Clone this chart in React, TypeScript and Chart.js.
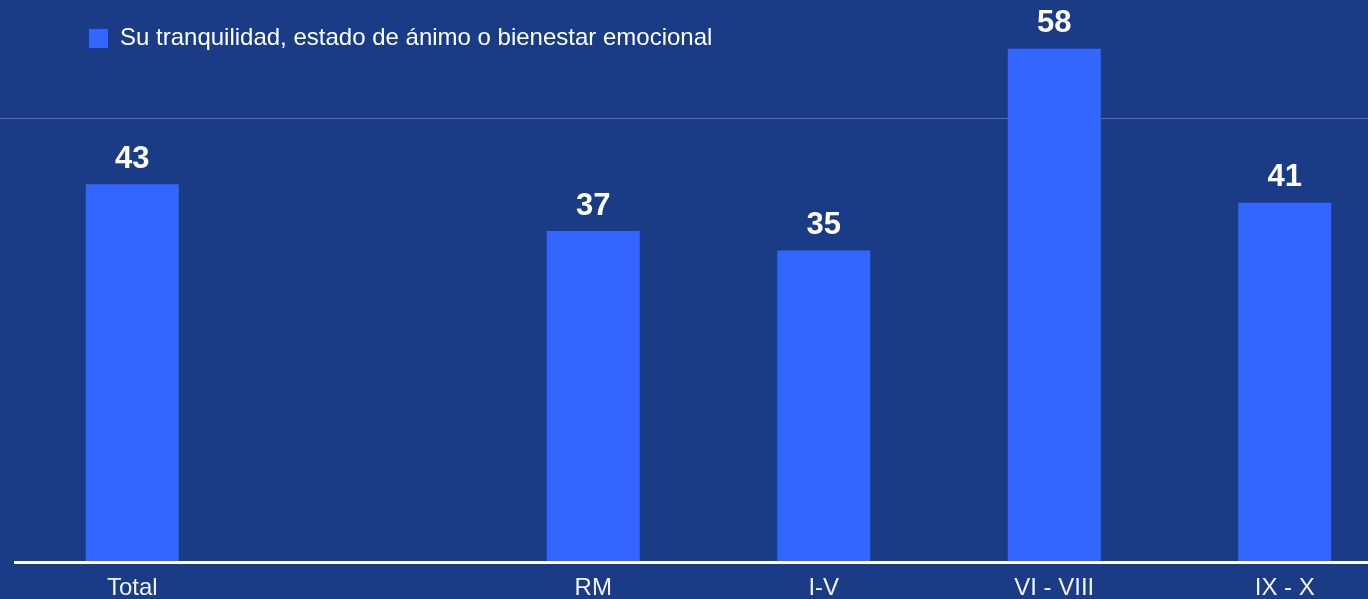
import React, { useEffect, useRef } from 'react';
import { Chart, registerables } from 'chart.js';

Chart.register(...registerables);

const categories: string[] = ['Total', '', 'RM', 'I-V', 'VI - VIII', 'IX - X'];
const values: (number | null)[] = [42.7, null, 37.4, 35.2, 58.0, 40.6];
const seriesLabel = 'Su tranquilidad, estado de ánimo o bienestar emocional';
const gridValues: number[] = [50];

const BG = '#1a3c86';
const BAR = '#3366ff';
const FONT = '"Liberation Sans", Arial, Helvetica, sans-serif';

const customPlugin = {
  id: 'customDraw',
  afterLayout(chart: any) {
    const lg = chart.legend;
    if (lg) {
      const w = lg.right - lg.left;
      const h = lg.bottom - lg.top;
      lg.left = 79;
      lg.right = 79 + w;
      lg.top = 16.5;
      lg.bottom = 16.5 + h;
    }
  },
  beforeDatasetsDraw(chart: any) {
    const { ctx, width } = chart;
    const y = chart.scales.y;
    ctx.save();
    ctx.strokeStyle = 'rgba(255,255,255,0.25)';
    ctx.lineWidth = 1;
    gridValues.forEach((v) => {
      const py = Math.round(y.getPixelForValue(v)) - 1.5;
      ctx.beginPath();
      ctx.moveTo(0, py);
      ctx.lineTo(width, py);
      ctx.stroke();
    });
    ctx.restore();
  },
  afterDatasetsDraw(chart: any) {
    const { ctx, width } = chart;
    const y = chart.scales.y;
    ctx.save();
    const y0 = y.getPixelForValue(0);
    ctx.fillStyle = '#ffffff';
    ctx.fillRect(14, Math.round(y0) - 1, width - 14, 3);
    ctx.font = `bold 31px ${FONT}`;
    ctx.textAlign = 'center';
    ctx.textBaseline = 'alphabetic';
    const meta = chart.getDatasetMeta(0);
    meta.data.forEach((bar: any, i: number) => {
      const v = values[i];
      if (v == null) return;
      ctx.fillText(String(Math.round(v)), bar.x, bar.y - 16.5);
    });
    ctx.restore();
  },
};

export default function App() {
  const ref = useRef<HTMLCanvasElement | null>(null);
  useEffect(() => {
    if (!ref.current) return;
    const chart = new Chart(ref.current, {
      type: 'bar',
      data: {
        labels: categories,
        datasets: [
          {
            label: seriesLabel,
            data: values,
            backgroundColor: BAR,
            borderWidth: 0,
            categoryPercentage: 1,
            barPercentage: 0.4035,
          },
        ],
      },
      options: {
        responsive: false,
        animation: false,
        events: [],
        layout: { padding: { left: 17, top: 31, right: 0, bottom: 0 } },
        plugins: {
          tooltip: { enabled: false },
          legend: {
            position: 'chartArea',
            align: 'start',
            labels: {
              color: '#ffffff',
              boxWidth: 19,
              boxHeight: 19,
              padding: 10,
              font: { family: FONT, size: 24 },
            },
          },
        },
        scales: {
          x: {
            grid: { display: false, drawTicks: false },
            border: { display: false },
            ticks: {
              color: '#f2f2f2',
              font: { family: FONT, size: 24 },
              padding: 12,
              autoSkip: false,
              maxRotation: 0,
            },
          },
          y: {
            display: false,
            min: 0,
            max: 60,
          },
        },
      },
      plugins: [customPlugin],
    } as any);
    return () => chart.destroy();
  }, []);

  return (
    <div
      style={{
        position: 'fixed',
        left: 0,
        top: 0,
        width: '100vw',
        height: '100vh',
        overflow: 'hidden',
        background: BG,
      }}
    >
      <canvas ref={ref} width={1400} height={615} style={{ display: 'block' }} />
    </div>
  );
}
